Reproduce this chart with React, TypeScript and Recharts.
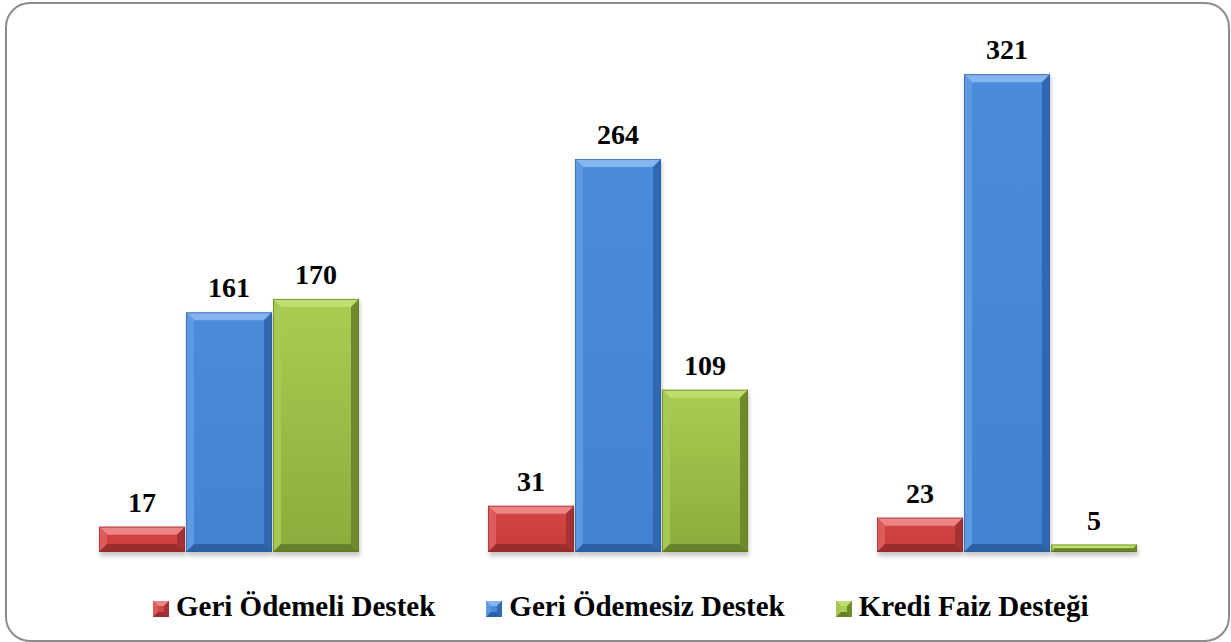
import React from "react";
import { BarChart, Bar, XAxis, YAxis, LabelList, Legend } from "recharts";

const categories = ["Grup 1", "Grup 2", "Grup 3"];
const geriOdemeli = [17, 31, 23];
const geriOdemesiz = [161, 264, 321];
const krediFaiz = [170, 109, 5];
const seriesNames = ["Geri Ödemeli Destek", "Geri Ödemesiz Destek", "Kredi Faiz Desteği"];

const data = categories.map((c, i) => ({
  name: c,
  s1: geriOdemeli[i],
  s2: geriOdemesiz[i],
  s3: krediFaiz[i],
}));

type Pal = { base1: string; base2: string; top: string; left: string; right: string; bottom: string; stroke: string };
const palettes: Record<string, Pal> = {
  s1: { base1: "#D44746", base2: "#C83B3B", top: "#EE8585", left: "#DD5C5B", right: "#A53232", bottom: "#9A2D2D", stroke: "#8C2A2A" },
  s2: { base1: "#4A8BDA", base2: "#4282D1", top: "#84B5EE", left: "#5C99E2", right: "#2F67B2", bottom: "#2C61A6", stroke: "#2C5A96" },
  s3: { base1: "#A9CD52", base2: "#8CAB3C", top: "#BEDE6E", left: "#A6C955", right: "#6E8A2C", bottom: "#67812A", stroke: "#5C7522" },
};

const FONT = "Tinos, Liberation Serif, Times New Roman, serif";

const BevelBar = (props: any) => {
  const { x, y, width, height, dataKey } = props;
  if (!height || height <= 0 || !width) return null;
  const p = palettes[dataKey as string] || palettes.s1;
  const b = Math.min(8, height / 2, width / 2);
  const x2 = x + width;
  const y2 = y + height;
  const gid = `grad-${dataKey}`;
  const sid = `shadow-${dataKey}`;
  return (
    <g>
      <defs>
        <linearGradient id={gid} x1="0" y1="0" x2="0" y2="1">
          <stop offset="0%" stopColor={p.base1} />
          <stop offset="100%" stopColor={p.base2} />
        </linearGradient>
        <filter id={sid} x="-10%" y="-10%" width="120%" height="140%">
          <feGaussianBlur stdDeviation="2" />
        </filter>
      </defs>
      <rect x={x + 1} y={y + 2} width={width} height={height + 2} fill="rgba(0,0,0,0.22)" filter={`url(#${sid})`} />
      <rect x={x} y={y} width={width} height={height} fill={`url(#${gid})`} />
      <polygon points={`${x},${y} ${x2},${y} ${x2 - b},${y + b} ${x + b},${y + b}`} fill={p.top} />
      <polygon points={`${x},${y} ${x + b},${y + b} ${x + b},${y2 - b} ${x},${y2}`} fill={p.left} />
      <polygon points={`${x2},${y} ${x2},${y2} ${x2 - b},${y2 - b} ${x2 - b},${y + b}`} fill={p.right} />
      <polygon points={`${x},${y2} ${x + b},${y2 - b} ${x2 - b},${y2 - b} ${x2},${y2}`} fill={p.bottom} />
      <rect x={x + 0.5} y={y + 0.5} width={Math.max(0, width - 1)} height={Math.max(0, height - 1)} fill="none" stroke={p.stroke} strokeWidth={1} strokeOpacity={0.6} />
    </g>
  );
};

const LegendIcon = ({ k }: { k: string }) => {
  const p = palettes[k];
  const s = 16;
  const b = 5;
  return (
    <svg width={s} height={s} style={{ display: "block" }}>
      <rect x={0} y={0} width={s} height={s} fill={p.base1} />
      <polygon points={`0,0 ${s},0 ${s - b},${b} ${b},${b}`} fill={p.top} />
      <polygon points={`0,0 ${b},${b} ${b},${s - b} 0,${s}`} fill={p.left} />
      <polygon points={`${s},0 ${s},${s} ${s - b},${s - b} ${s - b},${b}`} fill={p.right} />
      <polygon points={`0,${s} ${b},${s - b} ${s - b},${s - b} ${s},${s}`} fill={p.bottom} />
    </svg>
  );
};

const renderLegend = (props: any) => {
  const payload = props.payload || [];
  return (
    <div style={{ display: "flex", flexDirection: "row", paddingLeft: 153 }}>
      {payload.map((entry: any, i: number) => (
        <div key={i} style={{ display: "flex", alignItems: "flex-start", marginRight: i < payload.length - 1 ? 51 : 0 }}>
          <div style={{ marginTop: 11, marginRight: 7 }}>
            <LegendIcon k={entry.dataKey} />
          </div>
          <span style={{ fontFamily: FONT, fontWeight: "bold", fontSize: 29, lineHeight: "32px", color: "#000", whiteSpace: "nowrap" }}>
            {entry.value}
          </span>
        </div>
      ))}
    </div>
  );
};

const labelStyle = { fontFamily: FONT, fontWeight: "bold" as const, fontSize: 28, fill: "#000" };

export default function App() {
  return (
    <div style={{ position: "absolute", left: 0, top: 0, width: 1231, height: 642, background: "#fff", fontFamily: FONT }}>
      <div
        style={{
          position: "absolute",
          left: 5,
          top: 2,
          width: 1225,
          height: 640,
          boxSizing: "border-box",
          border: "2px solid #8C8C8C",
          borderRadius: 25,
          pointerEvents: "none",
        }}
      />
      <div style={{ position: "absolute", left: 0, top: 0 }}>
        <BarChart
          width={1231}
          height={642}
          data={data}
          margin={{ top: 31, right: 30, bottom: 90, left: 34 }}
          barCategoryGap={65}
          barGap={1}
        >
          <XAxis dataKey="name" hide />
          <YAxis hide domain={[0, 350]} />
          <Legend
            layout="horizontal"
            verticalAlign="middle"
            align="center"
            content={renderLegend}
            wrapperStyle={{ top: 590, left: 0, width: 1231 }}
          />
          <Bar dataKey="s1" name={seriesNames[0]} fill="#D04242" shape={BevelBar} isAnimationActive={false}>
            <LabelList dataKey="s1" position="top" offset={15} style={labelStyle} />
          </Bar>
          <Bar dataKey="s2" name={seriesNames[1]} fill="#4486D5" shape={BevelBar} isAnimationActive={false}>
            <LabelList dataKey="s2" position="top" offset={15} style={labelStyle} />
          </Bar>
          <Bar dataKey="s3" name={seriesNames[2]} fill="#9BBE46" shape={BevelBar} isAnimationActive={false}>
            <LabelList dataKey="s3" position="top" offset={15} style={labelStyle} />
          </Bar>
        </BarChart>
      </div>
    </div>
  );
}
